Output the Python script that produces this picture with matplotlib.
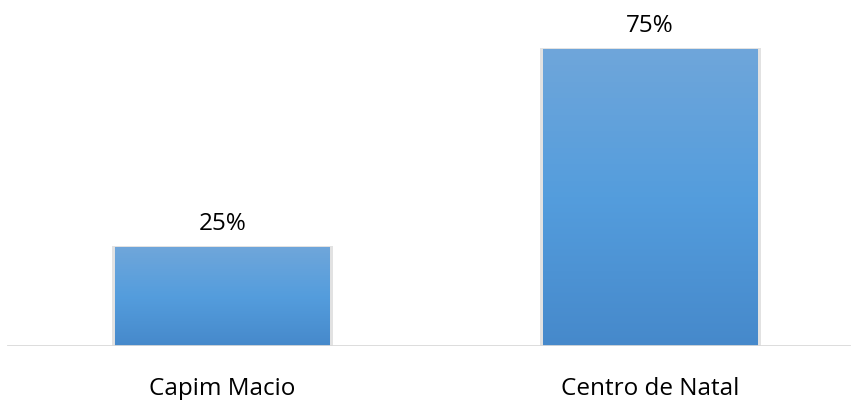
import matplotlib
matplotlib.use("Agg")
import matplotlib.pyplot as plt
import numpy as np
from matplotlib.patches import Rectangle
from matplotlib.colors import LinearSegmentedColormap

categories = ["Capim Macio", "Centro de Natal"]
values = [25, 75]
labels = ["25%", "75%"]

plt.rcParams['font.family'] = ['Open Sans', 'DejaVu Sans']

fig = plt.figure(figsize=(8.51, 4.0), dpi=100)
ax = fig.add_axes([0, 0.135, 1, 0.865])
W = 851
c0, dx = 222.5, 427.5
ax.set_xlim(-c0 / dx, (W - c0) / dx)
pxu = 297 / 75.0  # pixels per unit
ymax = (400 - 54) / pxu
ax.set_ylim(0, ymax)
for s in ax.spines.values():
    s.set_visible(False)
ax.set_xticks([])
ax.set_yticks([])

cmap = LinearSegmentedColormap.from_list("g", ["#4689cb", "#549ddd", "#6fa6da"])
bw = 215 / dx
grad = np.linspace(0, 1, 256).reshape(-1, 1)
for i, (v, lab) in enumerate(zip(values, labels)):
    x0 = i - bw / 2
    sh = 3 / dx
    ax.add_patch(Rectangle((x0 - sh, -0.5), bw + 2 * sh, v + 0.8, facecolor="#d0d0d0",
                           edgecolor="none", alpha=0.6, zorder=1))
    rect = Rectangle((x0, 0), bw, v, facecolor="none", edgecolor="none", zorder=3)
    ax.add_patch(rect)
    im = ax.imshow(grad, extent=[x0, x0 + bw, 0, v], origin="lower", cmap=cmap,
                   aspect="auto", zorder=2, interpolation="bilinear")
    im.set_clip_path(rect)
    ax.text(i, v + 17.5 / pxu, lab, ha="center", va="baseline", fontsize=17.5, color="#000000")
    ax.text(i, -49 / pxu, categories[i], ha="center", va="baseline", fontsize=17.5,
            color="#000000", clip_on=False)

ax.axhline(0, xmin=8 / W, xmax=849 / W, color="#d9d9d9", lw=2, zorder=4)
ax.set_xlim(-c0 / dx, (W - c0) / dx)
fig.savefig("out.png", dpi=100)
